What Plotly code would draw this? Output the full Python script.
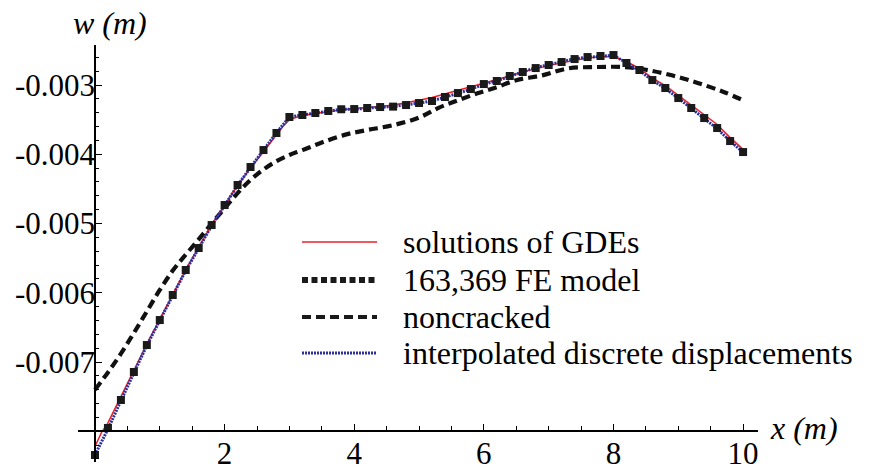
import plotly.graph_objects as go

# ---- data (values in metres) ----
x_fe = [0.0, 0.2, 0.4, 0.6, 0.8, 1.0, 1.2, 1.4, 1.6, 1.8, 2.0, 2.2, 2.4, 2.6, 2.8,
        3.0, 3.2, 3.4, 3.6, 3.8, 4.0, 4.2, 4.4, 4.6, 4.8, 5.0, 5.2, 5.4, 5.6, 5.8,
        6.0, 6.2, 6.4, 6.6, 6.8, 7.0, 7.2, 7.4, 7.6, 7.8, 8.0, 8.2, 8.4, 8.6, 8.8,
        9.0, 9.2, 9.4, 9.6, 9.8, 10.0]
w_fe = [-8.343, -7.953, -7.549, -7.144, -6.755, -6.394, -6.032, -5.671, -5.354, -5.022,
        -4.733, -4.444, -4.184, -3.939, -3.693, -3.462, -3.433, -3.404, -3.375, -3.350,
        -3.347, -3.332, -3.318, -3.312, -3.289, -3.260, -3.231, -3.173, -3.116, -3.058,
        -2.986, -2.942, -2.870, -2.812, -2.755, -2.711, -2.668, -2.625, -2.596, -2.581,
        -2.567, -2.682, -2.783, -2.928, -3.043, -3.188, -3.332, -3.477, -3.621, -3.809,
        -3.968]
w_fe = [v * 1e-3 for v in w_fe]

x_gde = [0.0, 0.1, 0.2, 0.4, 0.6, 0.8, 1.0, 1.2, 1.4, 1.6, 1.8, 2.0, 2.2, 2.4, 2.6, 2.8,
         2.9, 3.0, 3.2, 3.4, 3.6, 3.8, 4.0, 4.2, 4.4, 4.6, 4.8, 5.0, 5.2, 5.4, 5.6, 5.8,
         6.0, 6.2, 6.4, 6.6, 6.8, 7.0, 7.2, 7.4, 7.6, 7.8, 8.0, 8.2, 8.4, 8.6, 8.8,
         9.0, 9.2, 9.4, 9.6, 9.8, 10.0]
w_gde = [-8.22, -8.02, -7.88, -7.51, -7.12, -6.74, -6.38, -6.02, -5.67, -5.34, -5.02,
         -4.74, -4.45, -4.20, -3.96, -3.72, -3.60, -3.50, -3.44, -3.41, -3.38, -3.36,
         -3.34, -3.33, -3.31, -3.29, -3.26, -3.22, -3.18, -3.13, -3.08, -3.03,
         -2.98, -2.93, -2.87, -2.81, -2.76, -2.72, -2.68, -2.64, -2.61, -2.59,
         -2.59, -2.66, -2.76, -2.90, -3.01, -3.15, -3.29, -3.43, -3.57, -3.76, -3.93]
w_gde = [v * 1e-3 for v in w_gde]

x_interp = [0.0, 0.1, 0.2, 0.4, 0.6, 0.8, 1.0, 1.2, 1.4, 1.6, 1.8, 2.0, 2.2, 2.4, 2.6,
            2.8, 3.0, 3.2, 3.4, 3.6, 3.8, 4.0, 4.2, 4.4, 4.6, 4.8, 5.0, 5.2, 5.4, 5.6,
            5.8, 6.0, 6.2, 6.4, 6.6, 6.8, 7.0, 7.2, 7.4, 7.6, 7.8, 8.0, 8.2, 8.4, 8.6,
            8.8, 9.0, 9.2, 9.4, 9.6, 9.8, 10.0]
w_interp = [-8.34, -8.16, -7.97, -7.56, -7.15, -6.76, -6.40, -6.04, -5.68, -5.36, -5.03,
            -4.74, -4.45, -4.19, -3.94, -3.69, -3.46, -3.43, -3.40, -3.38, -3.35, -3.35,
            -3.33, -3.32, -3.31, -3.29, -3.26, -3.23, -3.18, -3.12, -3.06, -2.99, -2.94,
            -2.87, -2.81, -2.75, -2.71, -2.67, -2.62, -2.60, -2.58, -2.57, -2.68, -2.79,
            -2.93, -3.05, -3.19, -3.34, -3.48, -3.63, -3.81, -3.97]
w_interp = [v * 1e-3 for v in w_interp]

x_nc = [0.0, 0.2, 0.4, 0.6, 0.8, 1.0, 1.2, 1.4, 1.6, 1.8, 2.0, 2.2, 2.4, 2.6, 2.8, 3.0,
        3.2, 3.5, 3.85, 4.2, 4.6, 5.0, 5.3, 5.6, 5.9, 6.2, 6.5, 6.9, 7.3, 7.75, 8.15,
        8.5, 8.9, 9.3, 9.7, 10.0]
w_nc = [-7.40, -7.15, -6.88, -6.58, -6.27, -5.96, -5.68, -5.45, -5.23, -5.00, -4.78,
        -4.56, -4.37, -4.22, -4.10, -4.01, -3.94, -3.83, -3.72, -3.65, -3.58, -3.47,
        -3.33, -3.22, -3.12, -3.03, -2.93, -2.86, -2.76, -2.74, -2.74, -2.78, -2.86,
        -2.97, -3.10, -3.22]
w_nc = [v * 1e-3 for v in w_nc]

x_ticks = [2, 4, 6, 8, 10]
y_ticks = [-0.003, -0.004, -0.005, -0.006, -0.007]
y_tick_text = ["-0.003", "-0.004", "-0.005", "-0.006", "-0.007"]

legend_names = ["solutions of GDEs", "163,369 FE model", "noncracked",
                "interpolated discrete displacements"]

# ---- styling ----
FONT = "Liberation Serif"
RED = "#e8202a"
BLUE = "#2a2f9c"
X_RANGE = [-0.262, 10.23]
Y_RANGE = [-8.444e-3, -2.422e-3]
X_CROSS = -0.008

fig = go.Figure()
fig.add_trace(go.Scatter(x=x_nc, y=w_nc, mode="lines", name=legend_names[2],
                         line=dict(color="#111111", width=4.2, dash="9px,5px", shape="spline"),
                         showlegend=False))
fig.add_trace(go.Scatter(x=x_gde, y=w_gde, mode="lines", name=legend_names[0],
                         line=dict(color=RED, width=1.5), showlegend=False))
fig.add_trace(go.Scatter(x=x_interp, y=w_interp, mode="lines", name=legend_names[3],
                         line=dict(color=BLUE, width=3, dash="2px,1px"),
                         showlegend=False))
fig.add_trace(go.Scatter(x=x_fe, y=w_fe, mode="markers", name=legend_names[1],
                         marker=dict(symbol="square", size=8, color="#1a1a1a"),
                         showlegend=False, cliponaxis=False))

xpos = (X_CROSS - Y_RANGE[0]) / (Y_RANGE[1] - Y_RANGE[0])
ypos = (0 - X_RANGE[0]) / (X_RANGE[1] - X_RANGE[0])

TICKSIZE = 31
# page body has an 8px margin, so the figure is sized/offset to compensate
fig.update_layout(
    width=869, height=460,
    margin=dict(l=70, r=119, t=37, b=6),
    paper_bgcolor="white", plot_bgcolor="white",
    font=dict(family=FONT, size=TICKSIZE, color="black"),
    xaxis=dict(range=X_RANGE, anchor="free", position=xpos, showgrid=False,
               automargin=False, ticklabelstandoff=-5,
               zeroline=False, showline=True, linecolor="black", linewidth=1.6,
               tickvals=x_ticks, ticks="inside", ticklen=6, tickwidth=1.4,
               tickcolor="black", tickfont=dict(family=FONT, size=TICKSIZE),
               minor=dict(dtick=0.5, tick0=0, ticks="inside", ticklen=4,
                          tickwidth=1.2, tickcolor="black", showgrid=False)),
    yaxis=dict(range=Y_RANGE, anchor="free", position=ypos, showgrid=False,
               automargin=False, ticklabelstandoff=-7,
               zeroline=False, showline=True, linecolor="black", linewidth=1.6,
               tickvals=y_ticks, ticktext=y_tick_text, ticks="inside", ticklen=6,
               tickwidth=1.4, tickcolor="black", tickfont=dict(family=FONT, size=TICKSIZE),
               minor=dict(dtick=0.0002, tick0=0, ticks="inside", ticklen=3,
                          tickwidth=1.2, tickcolor="black", showgrid=False)),
)

# axis titles
fig.add_annotation(text="<i>w (m)</i>", xref="paper", yref="paper",
                   x=(110 - 78) / 680, y=(462 - 23) / 417, showarrow=False,
                   font=dict(family=FONT, size=32), xanchor="center", yanchor="middle")
fig.add_annotation(text="<i>x (m)</i>", xref="paper", yref="paper",
                   x=(768 - 78) / 680, y=(462 - 428) / 417, showarrow=False,
                   font=dict(family=FONT, size=32), xanchor="left", yanchor="middle")

# legend (drawn manually)
def px_x(p):
    return (p - 78) / 680

def px_y(p):
    return (462 - p) / 417

rows = [242, 280, 317, 353]
styles = [dict(color=RED, width=1.5, dash="solid"),
          dict(color="#1a1a1a", width=6, dash="6px,3.5px"),
          dict(color="#1a1a1a", width=4.2, dash="9px,5px"),
          dict(color=BLUE, width=2.8, dash="2px,1px")]
for name, r, st in zip(legend_names, rows, styles):
    fig.add_shape(type="line", xref="paper", yref="paper",
                  x0=px_x(302), x1=px_x(377), y0=px_y(r), y1=px_y(r), line=st)
    fig.add_annotation(text=name, xref="paper", yref="paper", x=px_x(401), y=px_y(r),
                       showarrow=False, xanchor="left", yanchor="middle",
                       font=dict(family=FONT, size=32))

fig.write_html("out.html")
